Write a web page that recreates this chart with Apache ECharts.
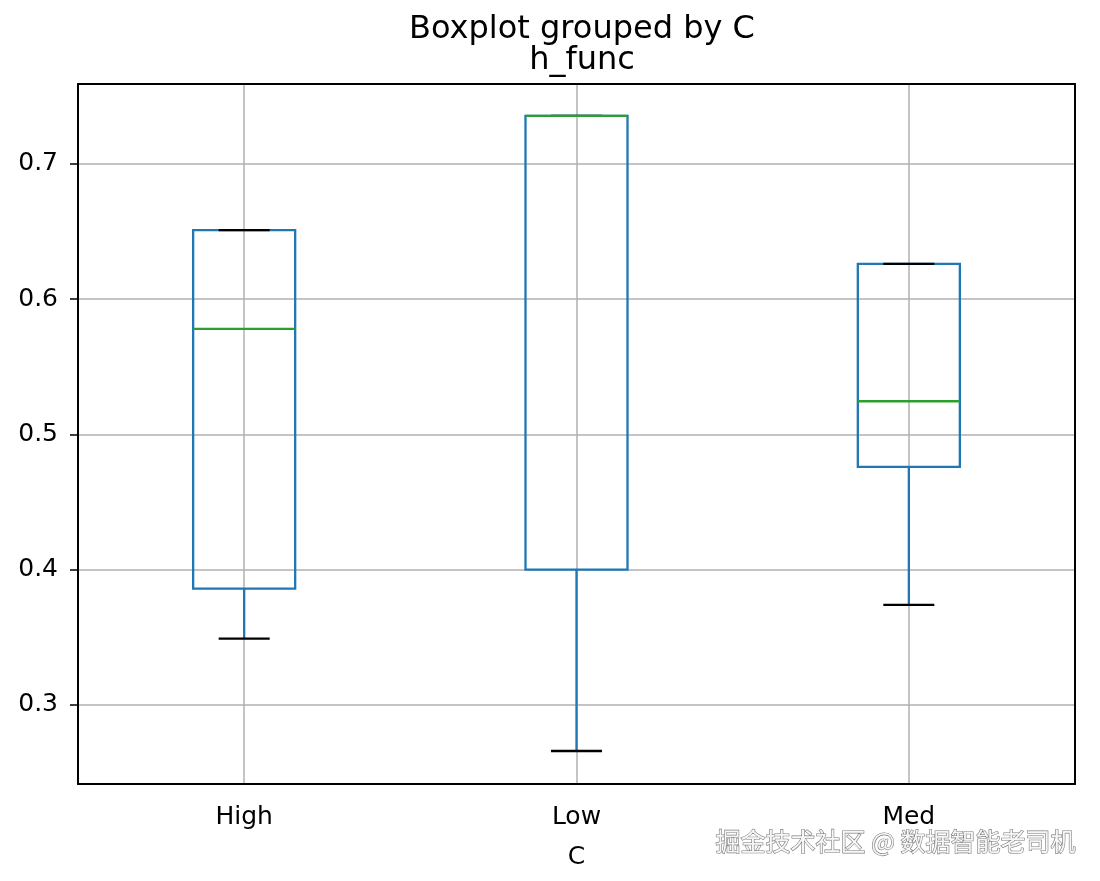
<!DOCTYPE html>
<html>
<head>
<meta charset="utf-8">
<script src="https://cdn.jsdelivr.net/npm/echarts@6/dist/echarts.min.js"></script>
<style>
  html, body { margin: 0; padding: 0; background: #fff; }
  #main { width: 1100px; height: 881px; }
</style>
</head>
<body>
<div id="main"></div>
<script>
// 分组和五数概括（从图上读的）
const categories = ['High', 'Low', 'Med']
const whiskerLow = [0.349, 0.266, 0.374]
const q1 = [0.386, 0.400, 0.476]
const medians = [0.578, 0.7355, 0.5245]
const q3 = [0.651, 0.7355, 0.626]
const whiskerHigh = [0.651, 0.7355, 0.626]

const boxData = categories.map((c, i) => [i, whiskerLow[i], q1[i], medians[i], q3[i], whiskerHigh[i]])

const FONT = 'DejaVu Sans'
const BLUE = '#1f77b4'
const GREEN = '#2ca02c'

var myChart = echarts.init(document.getElementById('main'))

function renderBox(params, api) {
  var idx = api.value(0)
  var pLow = api.coord([idx, api.value(1)])
  var pQ1 = api.coord([idx, api.value(2)])
  var pMed = api.coord([idx, api.value(3)])
  var pQ3 = api.coord([idx, api.value(4)])
  var pHigh = api.coord([idx, api.value(5)])
  var band = api.size([1, 0])[0]
  var half = band * 0.307 / 2 // 箱子宽度
  var cap = half / 2 // 须的横线是箱子一半
  var x = pMed[0]
  var line = (x1, y1, x2, y2, color) => ({
    type: 'line',
    shape: { x1: x1, y1: y1, x2: x2, y2: y2 },
    style: { stroke: color, lineWidth: 2.3 }
  })
  return {
    type: 'group',
    children: [
      {
        type: 'rect',
        shape: { x: x - half, y: pQ3[1], width: half * 2, height: pQ1[1] - pQ3[1] },
        style: { fill: 'none', stroke: BLUE, lineWidth: 2.3 }
      },
      line(x, pQ1[1], x, pLow[1], BLUE),
      line(x, pQ3[1], x, pHigh[1], BLUE),
      line(x - cap, pLow[1], x + cap, pLow[1], '#000'),
      line(x - cap, pHigh[1], x + cap, pHigh[1], '#000'),
      line(x - half, pMed[1], x + half, pMed[1], GREEN)
    ]
  }
}

var option = {
  animation: false,
  backgroundColor: '#fff',
  textStyle: { fontFamily: FONT },
  title: [
    {
      text: 'Boxplot grouped by C',
      left: 577, top: 9, textAlign: 'center',
      textStyle: { fontFamily: FONT, fontSize: 32, fontWeight: 'normal', color: '#000' }
    },
    {
      text: 'h_func',
      left: 577, top: 40, textAlign: 'center',
      textStyle: { fontFamily: FONT, fontSize: 32, fontWeight: 'normal', color: '#000' }
    }
  ],
  grid: { left: 78, right: 25, top: 84, bottom: 97 },
  xAxis: [
    {
      type: 'category',
      data: categories,
      boundaryGap: true,
      name: 'C',
      nameLocation: 'middle',
      nameGap: 61,
      nameTextStyle: { fontFamily: FONT, fontSize: 25, color: '#000' },
      axisLine: { lineStyle: { color: '#000', width: 2 } },
      axisTick: { alignWithLabel: true, length: 8, lineStyle: { color: '#000', width: 1.5 } },
      axisLabel: { margin: 21, fontFamily: FONT, fontSize: 25, color: '#000' },
      splitLine: { show: true, alignWithLabel: true, lineStyle: { color: '#b0b0b0', width: 1.5 } }
    },
    {
      // 上边框
      type: 'category',
      data: categories,
      position: 'top',
      axisLine: { show: true, lineStyle: { color: '#000', width: 2 } },
      axisTick: { show: false },
      axisLabel: { show: false },
      splitLine: { show: false }
    }
  ],
  yAxis: [
    {
      type: 'value',
      min: 0.2416,
      max: 0.759,
      splitNumber: 5,
      axisLine: { show: true, lineStyle: { color: '#000', width: 2 } },
      axisTick: { show: true, length: 8, lineStyle: { color: '#000', width: 1.5 } },
      axisLabel: {
        margin: 20, fontFamily: FONT, fontSize: 25, color: '#000',
        showMinLabel: false, showMaxLabel: false,
        formatter: v => v.toFixed(1)
      },
      splitLine: { show: true, lineStyle: { color: '#b0b0b0', width: 1.5 } }
    },
    {
      // 右边框
      type: 'value',
      min: 0.2416,
      max: 0.759,
      position: 'right',
      axisLine: { show: true, lineStyle: { color: '#000', width: 2 } },
      axisTick: { show: false },
      axisLabel: { show: false },
      splitLine: { show: false }
    }
  ],
  series: [{
    type: 'custom',
    renderItem: renderBox,
    data: boxData,
    encode: { x: 0, y: [1, 2, 3, 4, 5] },
    z: 3
  }],
  graphic: [{
    type: 'text',
    right: 24, top: 828,
    style: {
      text: '掘金技术社区 @ 数据智能老司机',
      font: '25px "Noto Sans CJK SC"',
      fill: '#f6f6f6',
      stroke: '#7a7a7a',
      lineWidth: 1.2
    }
  }]
}

myChart.setOption(option)
</script>
</body>
</html>
